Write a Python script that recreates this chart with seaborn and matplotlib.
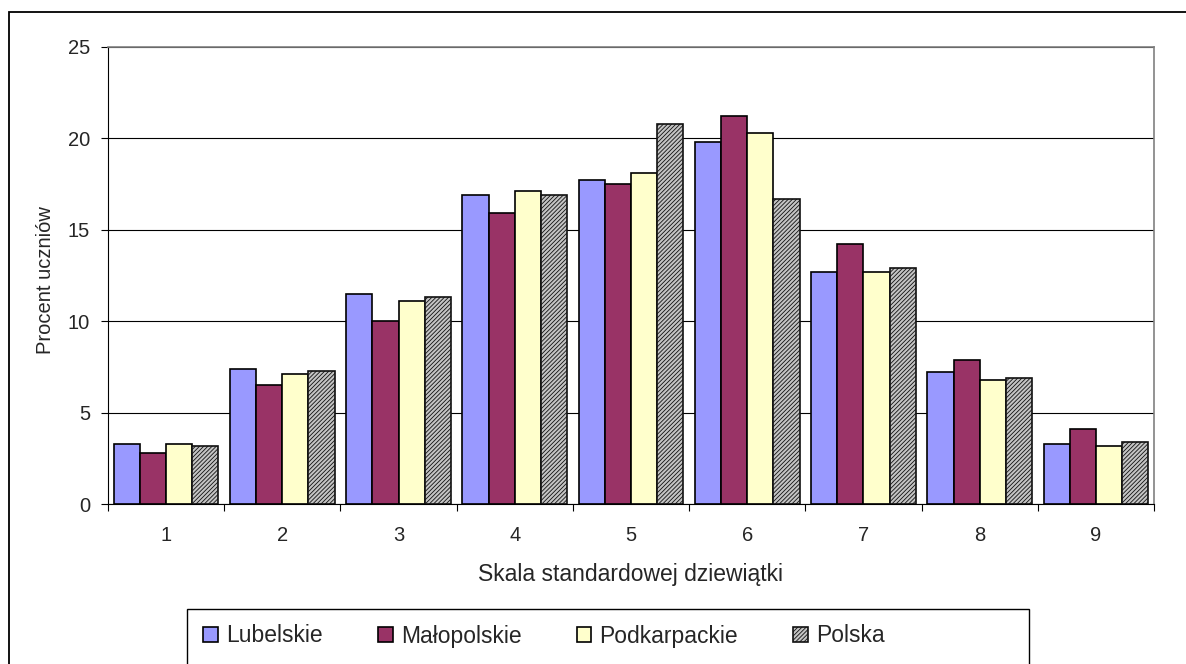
import matplotlib
matplotlib.use("Agg")
import matplotlib.pyplot as plt
from matplotlib.patches import Rectangle
from matplotlib.ticker import FixedLocator
import seaborn as sns
import pandas as pd

# Stanine scale results (percent of pupils) per region
categories = ["1", "2", "3", "4", "5", "6", "7", "8", "9"]
lubelskie = [3.3, 7.4, 11.5, 16.9, 17.7, 19.8, 12.7, 7.2, 3.3]
malopolskie = [2.8, 6.5, 10.0, 15.9, 17.5, 21.2, 14.2, 7.9, 4.1]
podkarpackie = [3.3, 7.1, 11.1, 17.1, 18.1, 20.3, 12.7, 6.8, 3.2]
polska = [3.2, 7.3, 11.3, 16.9, 20.8, 16.7, 12.9, 6.9, 3.4]
series_names = ["Lubelskie", "Małopolskie", "Podkarpackie", "Polska"]
y_ticks = [0, 5, 10, 15, 20, 25]

colors = ["#9999FF", "#993366", "#FFFFCC", "#C4C4C4"]

df = pd.DataFrame({
    "Skala": categories * 4,
    "Procent": lubelskie + malopolskie + podkarpackie + polska,
    "Region": [n for n in series_names for _ in categories],
})

sns.set_theme(style="white")
plt.rcParams["font.family"] = ["Liberation Sans", "DejaVu Sans"]
plt.rcParams["hatch.linewidth"] = 0.6

W, H = 1186, 664
fig = plt.figure(figsize=(W / 100, H / 100), dpi=100)
ax = fig.add_axes([108 / W, 1 - 504 / H, (1154 - 108) / W, (504 - 47) / H])

sns.barplot(data=df, x="Skala", y="Procent", hue="Region", order=categories,
            hue_order=series_names, palette=colors, width=0.9, gap=0,
            edgecolor="black", linewidth=1.2, saturation=1, ax=ax)

# Fine patterned fill for the national series
for bar in ax.containers[3]:
    bar.set_hatch("////////")
    bar.set_edgecolor("#111111")

if ax.get_legend() is not None:
    ax.get_legend().remove()

ax.set_xlim(-0.5, len(categories) - 0.5)
ax.set_ylim(0, 25)
ax.set_yticks(y_ticks)
ax.yaxis.grid(True, color="black", linewidth=0.8)
ax.set_axisbelow(True)

ax.tick_params(axis="y", which="major", direction="out", length=5, width=0.8,
               color="black", pad=8, labelsize=14.5, left=True)
ax.tick_params(axis="x", which="major", length=0, pad=16, labelsize=14.5)
ax.xaxis.set_minor_locator(FixedLocator([i - 0.5 for i in range(len(categories) + 1)]))
ax.tick_params(axis="x", which="minor", direction="out", length=5, width=0.8,
               color="black", bottom=True)

for side in ("left", "bottom"):
    ax.spines[side].set_color("black")
    ax.spines[side].set_linewidth(0.8)
for side in ("top", "right"):
    ax.spines[side].set_color("#808080")
    ax.spines[side].set_linewidth(1.2)

ax.set_xlabel("Skala standardowej dziewiątki", fontsize=16.5)
ax.xaxis.label.set_va("center")
ax.xaxis.set_label_coords(0.5, (504 - 574) / (504 - 47))
ax.set_ylabel("Procent uczniów", fontsize=14.5)
ax.yaxis.label.set_va("center")
ax.yaxis.set_label_coords((46 - 108) / (1154 - 108), 0.49)

# Outer chart frame
fig.patches.append(Rectangle((9 / W, -0.05), 1.2, 1 - 12 / H + 0.05,
                             transform=fig.transFigure, fill=False,
                             edgecolor="black", linewidth=1.3, zorder=0))
# Legend frame
fig.patches.append(Rectangle((187 / W, -0.05), (1029 - 187) / W, 0.05 + 1 - 609 / H,
                             transform=fig.transFigure, fill=False,
                             edgecolor="black", linewidth=1.0, zorder=0))

handles = [ax.containers[i].patches[0] for i in range(4)]
leg = fig.legend(handles, series_names, loc="center left",
                 bbox_to_anchor=(192 / W, 1 - 636 / H), ncol=4, frameon=False,
                 fontsize=16.5, handlelength=0.65, handleheight=0.65,
                 handletextpad=0.35, columnspacing=2.4, borderpad=0)

fig.savefig("out.png", dpi=100)
